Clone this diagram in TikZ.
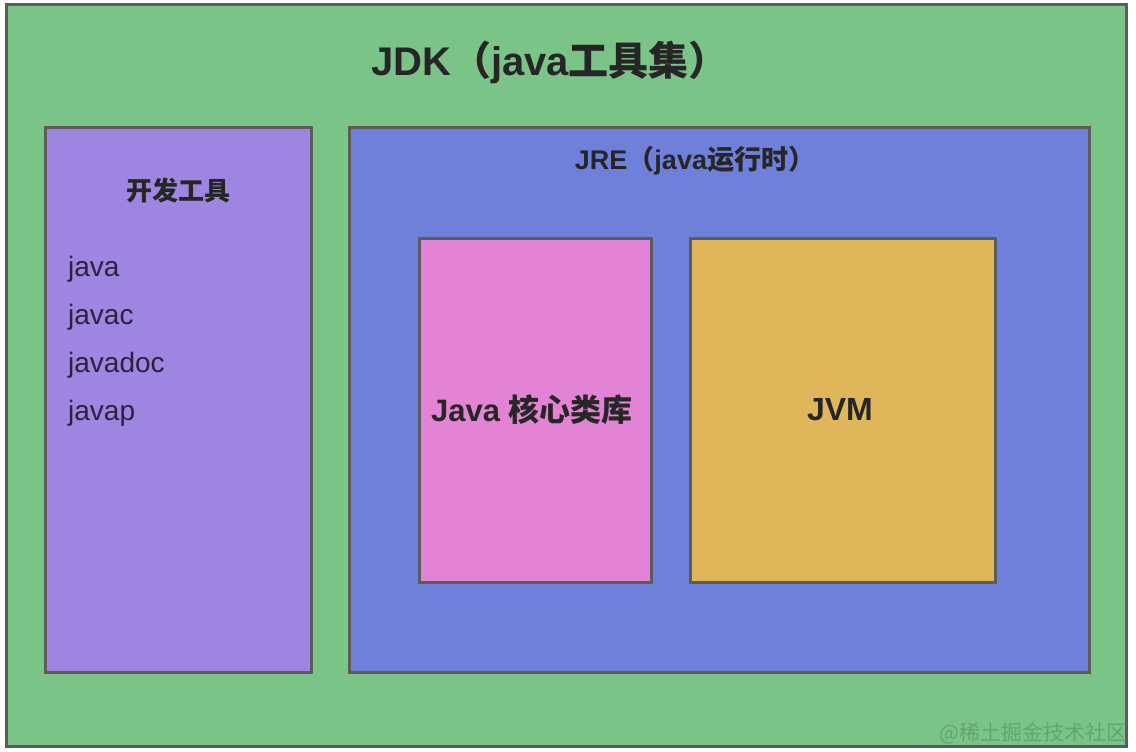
\documentclass[tikz,border=0pt]{standalone}
\usepackage{fontspec}
\setmainfont{Liberation Sans}
\newfontfamily\cjk{Noto Sans CJK SC}
\definecolor{jdkgreen}{HTML}{7BC487}
\definecolor{toolpurple}{HTML}{9E86E0}
\definecolor{jreblue}{HTML}{6E80DA}
\definecolor{libpink}{HTML}{E383D3}
\definecolor{jvmgold}{HTML}{DFB65A}
\definecolor{edgegray}{HTML}{5C5C5C}
\definecolor{txt}{HTML}{262626}
\definecolor{listtxt}{HTML}{2A2340}
\definecolor{wmark}{HTML}{62A570}
\newcommand{\zh}[1]{{\cjk\bfseries #1}}
\begin{document}
\begin{tikzpicture}[x=1pt,y=-1pt,
  panel/.style={draw=edgegray,line width=3pt},
  lbl/.style={text=txt,inner sep=0pt,font=\bfseries},
  item/.style={text=listtxt,inner sep=0pt,anchor=west,font=\fontsize{28}{30}\selectfont}]
\useasboundingbox[fill=white] (0,0) rectangle (1136,752);
\draw[panel,fill=jdkgreen] (6,5) rectangle (1126,746);
\draw[panel,fill=toolpurple] (45,127) rectangle (311,672);
\draw[panel,fill=jreblue] (349,127) rectangle (1089,672);
\draw[panel,fill=libpink] (419,238) rectangle (651,582);
\draw[panel,fill=jvmgold] (690,238) rectangle (995,582);
\node[lbl,font=\fontsize{40}{44}\selectfont\bfseries] (jdk) at (550,62) {JDK\zh{（}java\zh{工具集）}};
\node[lbl,font=\fontsize{26}{30}\selectfont\bfseries] (tools) at (178,191) {\zh{开发工具}};
\node[item] (i1) at (68,269) {java};
\node[item] (i2) at (68,317) {javac};
\node[item] (i3) at (68,365) {javadoc};
\node[item] (i4) at (68,413) {javap};
\node[lbl,font=\fontsize{27}{30}\selectfont\bfseries] (jre) at (695,161) {JRE\zh{（}java\zh{运行时）}};
\node[lbl,font=\fontsize{31}{34}\selectfont\bfseries] (lib) at (532,410) {Java \zh{核心类库}};
\node[lbl,font=\fontsize{32}{36}\selectfont\bfseries] (jvm) at (840,410) {JVM};
\node[text=wmark,inner sep=0pt,anchor=east,font=\fontsize{21}{24}\selectfont] (wm) at (1128,733) {\cjk @稀土掘金技术社区};
\end{tikzpicture}
\end{document}
